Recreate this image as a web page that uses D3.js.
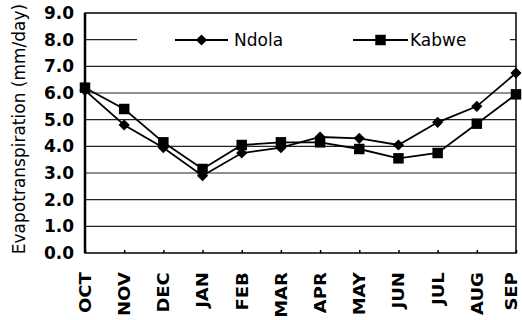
<!DOCTYPE html>
<html><head><meta charset="utf-8">
<script src="https://cdn.jsdelivr.net/npm/d3@7"></script>
<style>body{margin:0;background:#fff}svg{display:block}</style>
</head><body>
<svg id="c" width="522" height="320"></svg>
<script>
const months = ["OCT","NOV","DEC","JAN","FEB","MAR","APR","MAY","JUN","JUL","AUG","SEP"];
const ndola = [6.1,4.8,3.95,2.9,3.75,3.95,4.35,4.3,4.05,4.9,5.5,6.75];
const kabwe = [6.2,5.4,4.15,3.15,4.05,4.15,4.15,3.9,3.55,3.75,4.85,5.95];
const yTicks = [0,1,2,3,4,5,6,7,8,9];

const FONT = "DejaVu Sans, Verdana, sans-serif";
const svg = d3.select("#c");
const L=85, R=516, T=13, B=253;
const x = d3.scalePoint().domain(months).range([L,R]);
const y = d3.scaleLinear().domain([0,9]).range([B,T]);

// gridlines
svg.append("g").selectAll("line").data(yTicks.slice(1,-1)).join("line")
  .attr("x1",L).attr("x2",R).attr("y1",d=>y(d)).attr("y2",d=>y(d))
  .attr("stroke","#222").attr("stroke-width",1.2);

// legend box
svg.append("rect").attr("x",137).attr("y",28).attr("width",373).attr("height",24).attr("fill","#fff");

// frame
svg.append("rect").attr("x",L).attr("y",T).attr("width",R-L).attr("height",B-T)
  .attr("fill","none").attr("stroke","#000").attr("stroke-width",1.5);
svg.append("line").attr("x1",L).attr("x2",L).attr("y1",T).attr("y2",B).attr("stroke","#000").attr("stroke-width",2.5);

// y axis
const ya = svg.append("g").attr("transform",`translate(${L},0)`)
  .call(d3.axisLeft(y).tickValues(yTicks).tickFormat(d3.format(".1f")).tickSize(0).tickPadding(11));
ya.select(".domain").remove();
ya.selectAll("text").attr("font-family",FONT).attr("font-weight","bold").attr("font-size",17).attr("fill","#000");

// x axis
const xa = svg.append("g").attr("transform",`translate(0,${B})`)
  .call(d3.axisBottom(x).tickSize(-3).tickPadding(6));
xa.select(".domain").remove();
xa.selectAll("line").attr("stroke","#000").attr("stroke-width",1.5);
xa.selectAll("text").attr("font-family",FONT).attr("font-weight","bold").attr("font-size",15).attr("fill","#000")
  .attr("transform","rotate(-90) scale(1.2,1)").attr("text-anchor","end").attr("x",-16).attr("y",0)
  .attr("dy",(d,i)=>i===months.length-1?"0.0em":"0.36em");

// y title
svg.append("text").attr("transform",`translate(25,129) rotate(-90)`).attr("text-anchor","middle")
  .attr("font-family",FONT).attr("font-size",17).attr("fill","#000")
  .text("Evapotranspiration (mm/day)");

const line = d3.line().x((d,i)=>x(months[i])).y(d=>y(d));
svg.append("path").datum(kabwe).attr("d",line).attr("fill","none").attr("stroke","#000").attr("stroke-width",1.8);
svg.append("path").datum(ndola).attr("d",line).attr("fill","none").attr("stroke","#000").attr("stroke-width",1.8);

const diamond = d3.symbol().type(d3.symbolDiamond2).size(80);
const square = d3.symbol().type(d3.symbolSquare).size(110);
svg.append("g").selectAll("path").data(kabwe).join("path")
  .attr("transform",(d,i)=>`translate(${x(months[i])},${y(d)})`).attr("d",square).attr("fill","#000");
svg.append("g").selectAll("path").data(ndola).join("path")
  .attr("transform",(d,i)=>`translate(${x(months[i])},${y(d)})`).attr("d",diamond).attr("fill","#000");

// legend
const ly = 40;
const leg = [{name:"Ndola",sym:diamond,x1:175,x2:228,tx:234},{name:"Kabwe",sym:square,x1:353,x2:408,tx:410}];
leg.forEach(l=>{
  svg.append("line").attr("x1",l.x1).attr("x2",l.x2).attr("y1",ly).attr("y2",ly).attr("stroke","#000").attr("stroke-width",1.8);
  svg.append("path").attr("transform",`translate(${(l.x1+l.x2)/2},${ly})`).attr("d",l.sym).attr("fill","#000");
  svg.append("text").attr("x",l.tx).attr("y",ly).attr("dy","0.36em").attr("font-family",FONT)
    .attr("font-size",17).attr("fill","#000").text(l.name);
});
</script>
</body></html>
